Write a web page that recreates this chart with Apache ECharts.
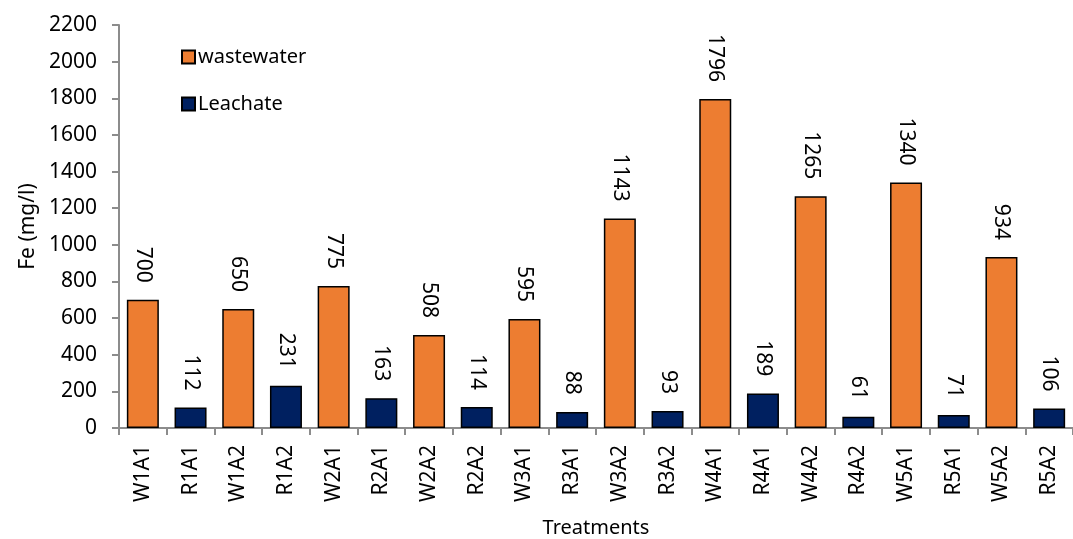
<!DOCTYPE html>
<html>
<head>
<meta charset="utf-8">
<script src="https://cdn.jsdelivr.net/npm/echarts@6/dist/echarts.min.js"></script>
<style>
  html, body { margin: 0; padding: 0; background: #fff; }
  #chart { width: 1073px; height: 539px; }
</style>
</head>
<body>
<div id="chart"></div>
<script>
// Treatment codes along the x axis
const categories = ['W1A1','R1A1','W1A2','R1A2','W2A1','R2A1','W2A2','R2A2','W3A1','R3A1',
                    'W3A2','R3A2','W4A1','R4A1','W4A2','R4A2','W5A1','R5A1','W5A2','R5A2'];
// Fe concentration (mg/l); null where a treatment belongs to the other group
const wastewater = [700, null, 650, null, 775, null, 508, null, 595, null,
                    1143, null, 1796, null, 1265, null, 1340, null, 934, null];
const leachate   = [null, 112, null, 231, null, 163, null, 114, null, 88,
                    null, 93, null, 189, null, 61, null, 71, null, 106];
const yTicks = { min: 0, max: 2200, interval: 200 };

const FONT = 'Noto Sans';
const labelCfg = {
  show: true,
  position: 'top',
  rotate: -90,
  align: 'right',
  verticalAlign: 'middle',
  distance: 17,
  color: '#000',
  fontFamily: FONT,
  fontSize: 21
};

const chart = echarts.init(document.getElementById('chart'));
chart.setOption({
  animation: false,
  textStyle: { fontFamily: FONT },
  grid: { left: 119, right: 0, top: 25, bottom: 111, containLabel: false, outerBoundsMode: 'none' },
  legend: {
    orient: 'vertical',
    left: 176,
    top: 42,
    itemGap: 27,
    itemWidth: 13,
    itemHeight: 13,
    textStyle: { fontFamily: FONT, fontSize: 20, color: '#000', padding: [0, 0, 0, -2] },
    data: [
      { name: 'wastewater', icon: 'rect' },
      { name: 'Leachate', icon: 'rect' }
    ]
  },
  xAxis: {
    type: 'category',
    data: categories,
    name: 'Treatments',
    nameLocation: 'middle',
    nameGap: 90,
    nameTextStyle: { fontFamily: FONT, fontSize: 20, color: '#000' },
    axisLine: { lineStyle: { color: '#8c8c8c', width: 2 } },
    axisTick: { show: true, length: 7, lineStyle: { color: '#8c8c8c', width: 2 } },
    axisLabel: { rotate: 90, margin: 17, fontFamily: FONT, fontSize: 21, color: '#000', interval: 0 }
  },
  yAxis: {
    type: 'value',
    min: yTicks.min,
    max: yTicks.max,
    interval: yTicks.interval,
    name: 'Fe (mg/l)',
    nameLocation: 'middle',
    nameGap: 77,
    nameTextStyle: { fontFamily: FONT, fontSize: 21, color: '#000' },
    axisLine: { show: true, lineStyle: { color: '#8c8c8c', width: 2 } },
    axisTick: { show: true, length: 7, lineStyle: { color: '#8c8c8c', width: 2 } },
    axisLabel: { margin: 22, fontFamily: FONT, fontSize: 21, color: '#000', formatter: v => String(v) },
    splitLine: { show: false }
  },
  series: [
    {
      name: 'wastewater',
      type: 'bar',
      stack: 'fe',
      barWidth: 32,
      data: wastewater,
      itemStyle: { color: '#ED7D31', borderColor: '#000', borderWidth: 1.5 },
      label: labelCfg
    },
    {
      name: 'Leachate',
      type: 'bar',
      stack: 'fe',
      barWidth: 32,
      data: leachate,
      itemStyle: { color: '#002060', borderColor: '#000', borderWidth: 1.5 },
      label: labelCfg
    }
  ]
});
</script>
</body>
</html>
